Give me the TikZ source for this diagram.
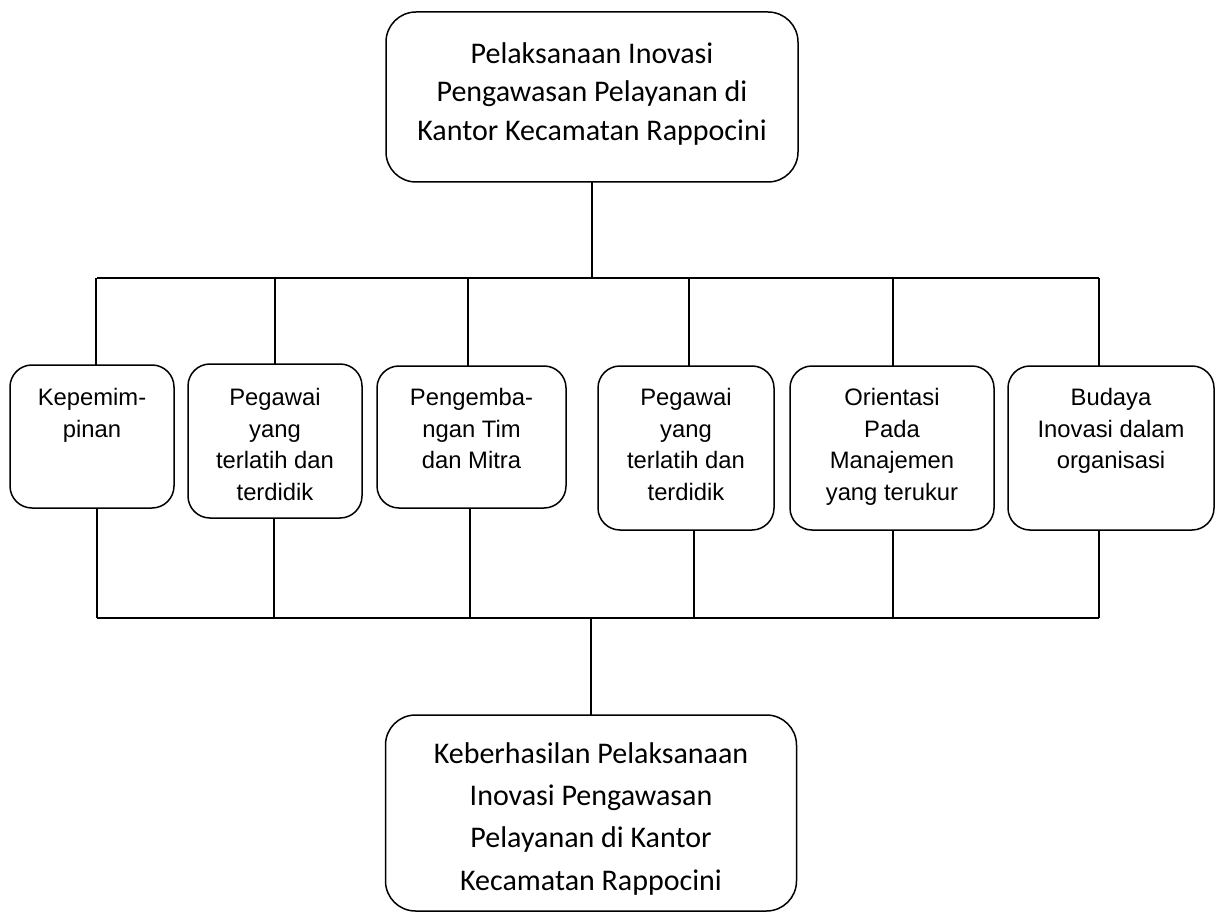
\documentclass[tikz,border=0pt]{standalone}
\usepackage{fontspec}
\setmainfont{Carlito}
\newfontfamily\arialf{Liberation Sans}
\begin{document}
\begin{tikzpicture}[x=1pt,y=-1pt,line width=1.5pt,
  smallbox/.style={draw,rounded corners=22pt,inner sep=0pt,outer sep=0pt},
  bigbox/.style={draw,rounded corners=30pt,inner sep=0pt,outer sep=0pt},
  smalltext/.style={anchor=north,inner sep=0pt,align=center,font=\arialf\fontsize{23.8}{31.5}\selectfont},
  bigtext/.style={anchor=north,inner sep=0pt,align=center,font=\fontsize{30}{38.5}\selectfont}]
\useasboundingbox (0,0) rectangle (1219,912);
% top and bottom boxes
\node[bigbox,minimum width=412pt,minimum height=170pt] (T) at (592,97) {};
\node[bigtext] (Tt) at (592,41.5) {Pelaksanaan Inovasi\\Pengawasan Pelayanan di\\Kantor Kecamatan Rappocini};
\node[bigbox,minimum width=411pt,minimum height=196pt] (B) at (591,813) {};
\node[bigtext,font=\fontsize{30}{42.3}\selectfont] (Bt) at (591,741.8) {Keberhasilan Pelaksanaan\\Inovasi Pengawasan\\Pelayanan di Kantor\\Kecamatan Rappocini};
% small boxes
\node[smallbox,minimum width=164pt,minimum height=143pt] (b1) at (92,436.5) {};
\node[smallbox,minimum width=174pt,minimum height=154pt] (b2) at (275,441) {};
\node[smallbox,minimum width=189pt,minimum height=142pt] (b3) at (471.5,437) {};
\node[smallbox,minimum width=176pt,minimum height=164pt] (b4) at (686,448) {};
\node[smallbox,minimum width=204pt,minimum height=164pt] (b5) at (892,448) {};
\node[smallbox,minimum width=206pt,minimum height=164pt] (b6) at (1111,448) {};
\node[smalltext] (b1t) at (92,388) {Kepemim-\\pinan};
\node[smalltext] (b2t) at (275,388) {Pegawai\\yang\\terlatih dan\\terdidik};
\node[smalltext] (b3t) at (471.5,388) {Pengemba-\\ngan Tim\\dan Mitra};
\node[smalltext] (b4t) at (686,388) {Pegawai\\yang\\terlatih dan\\terdidik};
\node[smalltext] (b5t) at (892,388) {Orientasi\\Pada\\Manajemen\\yang terukur};
\node[smalltext] (b6t) at (1111,388) {Budaya\\Inovasi dalam\\organisasi};
% buses
\coordinate (tL) at (97,278);
\coordinate (tR) at (1099,278);
\coordinate (bL) at (97,618);
\coordinate (bR) at (1099,618);
\draw (T.south) -- (T.south |- tL);
\draw (tL) -- (tR);
\draw (bL) -- (bR);
\draw (B.north) -- (B.north |- bL);
% drops from top bus
\coordinate (d1) at (96,278);
\coordinate (d2) at (275,278);
\coordinate (d3) at (468,278);
\coordinate (d4) at (689,278);
\coordinate (d5) at (893,278);
\coordinate (d6) at (1099,278);
\draw (d1) -- (d1 |- b1.north);
\draw (d2) -- (d2 |- b2.north);
\draw (d3) -- (d3 |- b3.north);
\draw (d4) -- (d4 |- b4.north);
\draw (d5) -- (d5 |- b5.north);
\draw (d6) -- (d6 |- b6.north);
% rises to bottom bus
\coordinate (u1) at (97,618);
\coordinate (u2) at (274,618);
\coordinate (u3) at (470,618);
\coordinate (u4) at (694,618);
\coordinate (u5) at (893,618);
\coordinate (u6) at (1099,618);
\draw (u1 |- b1.south) -- (u1);
\draw (u2 |- b2.south) -- (u2);
\draw (u3 |- b3.south) -- (u3);
\draw (u4 |- b4.south) -- (u4);
\draw (u5 |- b5.south) -- (u5);
\draw (u6 |- b6.south) -- (u6);
\end{tikzpicture}
\end{document}
